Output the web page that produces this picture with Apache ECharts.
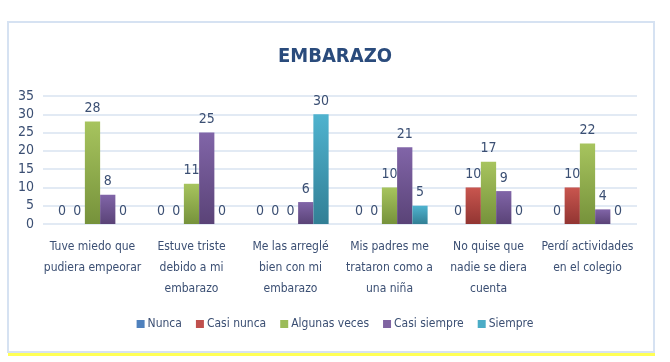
<!DOCTYPE html>
<html><head><meta charset="utf-8">
<script src="https://cdn.jsdelivr.net/npm/echarts@6/dist/echarts.min.js"></script>
<style>html,body{margin:0;padding:0;background:#fff}#c{width:670px;height:362px}</style>
</head><body><div id="c"></div>
<script>
const categories = ["Tuve miedo que\npudiera empeorar","Estuve triste\ndebido a mi\nembarazo","Me las arreglé\nbien con mi\nembarazo","Mis padres me\ntrataron como a\nuna niña","No quise que\nnadie se diera\ncuenta","Perdí actividades\nen el colegio"];
const seriesNames = ["Nunca","Casi nunca","Algunas veces","Casi siempre","Siempre"];
const nunca = [0,0,0,0,0,0];
const casiNunca = [0,0,0,0,10,10];
const algunasVeces = [28,11,0,10,17,22];
const casiSiempre = [8,25,6,21,9,4];
const siempre = [0,0,30,5,0,0];
const yTicks = {min:0, max:35, interval:5};

const values = [nunca, casiNunca, algunasVeces, casiSiempre, siempre];
const tops = ['#5b8cc8','#c9564f','#a7c45e','#8165a8','#4fb3cf'];
const bottoms = ['#3a6398','#923532','#76923b','#5a4377','#327f95'];
const legendCols = ['#4f81bd','#c0504d','#9bbb59','#8064a2','#4bacc6'];
const FONT = "'Liberation Sans Narrow','DejaVu Sans Condensed',sans-serif";
const txt = '#3b4f73';

const chart = echarts.init(document.getElementById('c'));
chart.setOption({
  animation:false,
  title:{text:'EMBARAZO', left:'center', top:42, textStyle:{fontFamily:FONT, fontSize:20, fontWeight:'bold', color:'#2a4b7c'}},
  graphic:[
    {type:'rect', shape:{x:8,y:22,width:646,height:330}, style:{fill:'none', stroke:'#d6e2f2', lineWidth:2}, z:-1},
    {type:'rect', shape:{x:8,y:353,width:647,height:3}, style:{fill:'#ffff55'}, z:-1}
  ],
  grid:{left:43, right:33, top:96, bottom:138},
  legend:{bottom:27, left:'center', itemWidth:8, itemHeight:8, itemGap:14, icon:'rect',
    textStyle:{fontFamily:FONT, fontSize:12, color:txt, padding:[0,0,0,-2]},
    data:seriesNames.map((n,i)=>({name:n, itemStyle:{color:legendCols[i]}}))},
  xAxis:{type:'category', data:categories, axisLine:{show:false}, axisTick:{show:false},
    axisLabel:{fontFamily:FONT, fontSize:12, color:txt, lineHeight:21, margin:12, interval:0}},
  yAxis:{type:'value', min:yTicks.min, max:yTicks.max, interval:yTicks.interval,
    axisLabel:{fontFamily:FONT, fontSize:14, color:txt, margin:9},
    splitLine:{lineStyle:{color:'#d9e3f0', width:1.5}}},
  series:values.map((v,i)=>({
    name:seriesNames[i], type:'bar', data:v, barGap:'0%', barCategoryGap:'23%',
    itemStyle:{color:new echarts.graphic.LinearGradient(0,0,0,1,[{offset:0,color:tops[i]},{offset:1,color:bottoms[i]}])},
    label:{show:true, position:'top', distance:6, fontFamily:FONT, fontSize:14, color:txt}
  }))
});
</script></body></html>
